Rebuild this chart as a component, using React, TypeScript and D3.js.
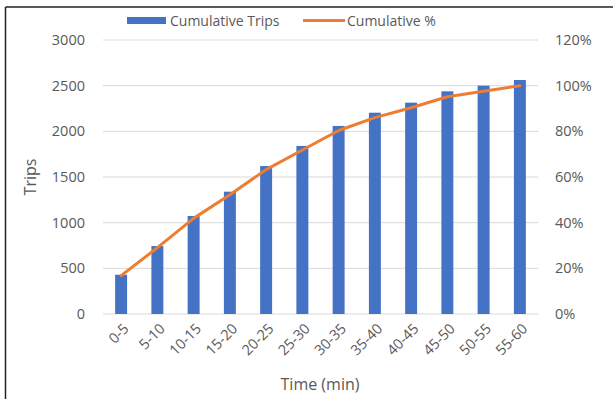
import React from "react";
import * as d3 from "d3";

const categories = ["0-5", "5-10", "10-15", "15-20", "20-25", "25-30", "30-35", "35-40", "40-45", "45-50", "50-55", "55-60"];
const cumulativeTrips = [430, 744, 1073, 1339, 1620, 1840, 2059, 2204, 2314, 2438, 2500, 2562];
const tripTicks = [0, 500, 1000, 1500, 2000, 2500, 3000];
const pctTicks = [0, 0.2, 0.4, 0.6, 0.8, 1.0, 1.2];

const total = cumulativeTrips[cumulativeTrips.length - 1];
const cumulativePct = cumulativeTrips.map((v) => v / total);

const W = 613;
const H = 399;
const left = 103;
const right = 538;
const top = 40;
const bottom = 314;

const BLUE = "#4472C4";
const ORANGE = "#ED7D31";
const TEXT = "#595959";
const FONT = "'Open Sans', 'Liberation Sans', sans-serif";

export default function App() {
  const x = d3.scaleBand<string>().domain(categories).range([left, right]).paddingInner(0.67).paddingOuter(0.335);
  const yTrips = d3.scaleLinear().domain([0, 3000]).range([bottom, top]);
  const yPct = d3.scaleLinear().domain([0, 1.2]).range([bottom, top]);
  const center = (c: string) => (x(c) ?? 0) + x.bandwidth() / 2;

  const line = d3
    .line<number>()
    .x((_, i) => center(categories[i]))
    .y((d) => yPct(d));

  const pctFmt = d3.format(".0%");

  return (
    <svg
      width={W}
      height={H}
      style={{ position: "absolute", left: 0, top: 0, background: "#fff" }}
      fontFamily={FONT}
    >
      {/* frame */}
      <line x1={5.5} y1={7} x2={W} y2={7} stroke="#222" strokeWidth={1.5} />
      <line x1={5.5} y1={7} x2={5.5} y2={H} stroke="#222" strokeWidth={1.5} />

      {/* gridlines */}
      {tripTicks.map((t) => (
        <line key={t} x1={left} x2={right} y1={yTrips(t)} y2={yTrips(t)} stroke="#d9d9d9" strokeWidth={1} />
      ))}

      {/* left axis labels */}
      {tripTicks.map((t) => (
        <text key={t} x={85} y={yTrips(t)} dy="0.35em" textAnchor="end" fontSize={14.5} fill={TEXT}>
          {t}
        </text>
      ))}

      {/* right axis labels */}
      {pctTicks.map((t) => (
        <text key={t} x={555} y={yPct(t)} dy="0.35em" textAnchor="start" fontSize={14.5} fill={TEXT}>
          {pctFmt(t)}
        </text>
      ))}

      {/* bars */}
      {categories.map((c, i) => (
        <rect
          key={c}
          x={x(c)}
          y={yTrips(cumulativeTrips[i])}
          width={x.bandwidth()}
          height={bottom - yTrips(cumulativeTrips[i])}
          fill={BLUE}
        />
      ))}

      {/* cumulative percentage line */}
      <path d={line(cumulativePct) ?? ""} fill="none" stroke={ORANGE} strokeWidth={3} strokeLinecap="round" strokeLinejoin="round" />

      {/* category labels */}
      {categories.map((c) => (
        <text
          key={c}
          transform={`translate(${center(c) + 5},${bottom + 12}) rotate(-45)`}
          textAnchor="end"
          dy="0.35em"
          fontSize={14.5}
          fill={TEXT}
        >
          {c}
        </text>
      ))}

      {/* axis titles */}
      <text x={320} y={390} textAnchor="middle" fontSize={16} fill={TEXT}>
        Time (min)
      </text>
      <text transform={`translate(36,177) rotate(-90)`} textAnchor="middle" fontSize={16} fill={TEXT}>
        Trips
      </text>

      {/* legend */}
      <rect x={127} y={17} width={39} height={7} fill={BLUE} />
      <text x={170} y={25.5} fontSize={14} fill={TEXT}>
        Cumulative Trips
      </text>
      <line x1={303} x2={345} y1={20.5} y2={20.5} stroke={ORANGE} strokeWidth={3} />
      <text x={347} y={25.5} fontSize={14} fill={TEXT}>
        Cumulative %
      </text>
    </svg>
  );
}
